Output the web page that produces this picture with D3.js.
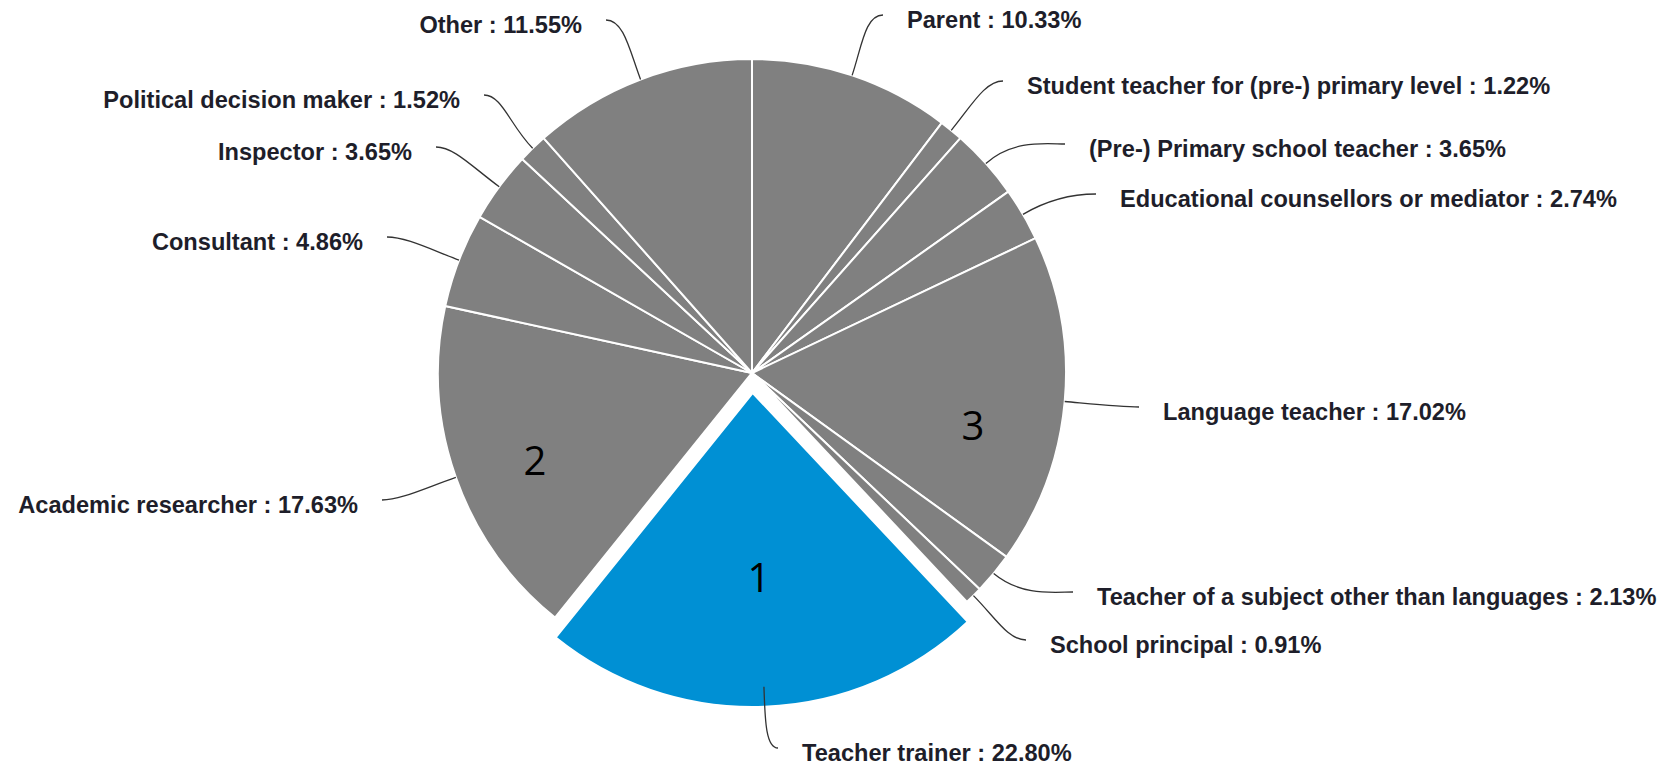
<!DOCTYPE html>
<html><head><meta charset="utf-8">
<script src="https://cdn.jsdelivr.net/npm/d3@7"></script>
<style>html,body{margin:0;padding:0;background:#fff;overflow:hidden}</style>
</head><body>
<svg id="chart" width="1680" height="768"></svg>
<script>
// ---- data ----
const categories = ["Parent","Student teacher for (pre-) primary level","(Pre-) Primary school teacher","Educational counsellors or mediator","Language teacher","Teacher of a subject other than languages","School principal","Teacher trainer","Academic researcher","Consultant","Inspector","Political decision maker","Other"];
const shares = [10.33,1.22,3.65,2.74,17.02,2.13,0.91,22.80,17.63,4.86,3.65,1.52,11.55];
const highlighted = ["Teacher trainer"];
const rankedCategories = ["Teacher trainer","Academic researcher","Language teacher"];
const rankLabels = ["1","2","3"];

// ---- layout ----
const W = 1680, H = 768, cx = 752, cy = 373, R = 314, explode = 20;
const labelAnchors = [[907,28],[1027,94],[1089,157],[1120,207],[1163,420],[1097,605],[1050,653],[802,761],[358,513],[363,250],[412,160],[460,108],[582,33]];
const labelSides = ["r","r","r","r","r","r","r","r","l","l","l","l","l"];
const rankOffsets = [[7,204],[-217,87],[221,52]];

const svg = d3.select("#chart");
const g = svg.append("g").attr("transform", `translate(${cx},${cy})`);

const data = categories.map((c, i) => ({ c, v: shares[i], i }));
const pie = d3.pie().sort(null).value(d => d.v);
const arc = d3.arc().innerRadius(0).outerRadius(R);
const arcs = pie(data);
const mid = d => (d.startAngle + d.endAngle) / 2;

g.selectAll("path.slice").data(arcs).join("path")
  .attr("class", "slice")
  .attr("d", arc)
  .attr("fill", d => highlighted.includes(d.data.c) ? "#0090d4" : "#808080")
  .attr("stroke", "#fff")
  .attr("stroke-width", 2)
  .attr("stroke-linejoin", "round")
  .attr("transform", d => {
    if (!highlighted.includes(d.data.c)) return null;
    const a = mid(d);
    return `translate(${explode * Math.sin(a)},${-explode * Math.cos(a)})`;
  });

// connectors
const conn = svg.append("g").attr("fill", "none").attr("stroke", "#333").attr("stroke-width", 1.3);
arcs.forEach((d, i) => {
  const a = mid(d);
  const ux = Math.sin(a), uy = -Math.cos(a);
  const A = [cx + R * ux, cy + R * uy];
  const side = labelSides[i];
  const [lx, ly] = labelAnchors[i];
  const E = [lx + (side === "r" ? -24 : 24), ly - 13];
  const dist = Math.hypot(E[0] - A[0], E[1] - A[1]);
  const P1 = [A[0] + ux * dist * 0.45, A[1] + uy * dist * 0.45];
  const hx = Math.min(18, Math.abs(E[0] - A[0]) * 0.5 + 6);
  const P2 = [E[0] + (side === "r" ? -hx : hx), E[1]];
  const p = d3.path();
  p.moveTo(A[0], A[1]);
  p.bezierCurveTo(P1[0], P1[1], P2[0], P2[1], E[0], E[1]);
  conn.append("path").attr("d", p.toString());
});

// labels
svg.append("g").selectAll("text").data(arcs).join("text")
  .attr("x", (d, i) => labelAnchors[i][0])
  .attr("y", (d, i) => labelAnchors[i][1])
  .attr("text-anchor", (d, i) => labelSides[i] === "r" ? "start" : "end")
  .attr("font-family", "'Liberation Sans', Arial, sans-serif")
  .attr("font-weight", "bold")
  .attr("font-size", 23.6)
  .attr("fill", "#1e1e2a")
  .text(d => `${d.data.c} : ${d3.format(".2f")(d.data.v)}%`);

// rank numbers
svg.append("g").selectAll("text").data(rankedCategories).join("text")
  .attr("x", (c, i) => cx + rankOffsets[i][0])
  .attr("y", (c, i) => cy + rankOffsets[i][1] + 14.5)
  .attr("text-anchor", "middle")
  .attr("font-family", "'Open Sans', 'Noto Sans', sans-serif")
  .attr("font-size", 40)
  .attr("fill", "#000")
  .text((c, i) => rankLabels[i]);
</script>
</body></html>
